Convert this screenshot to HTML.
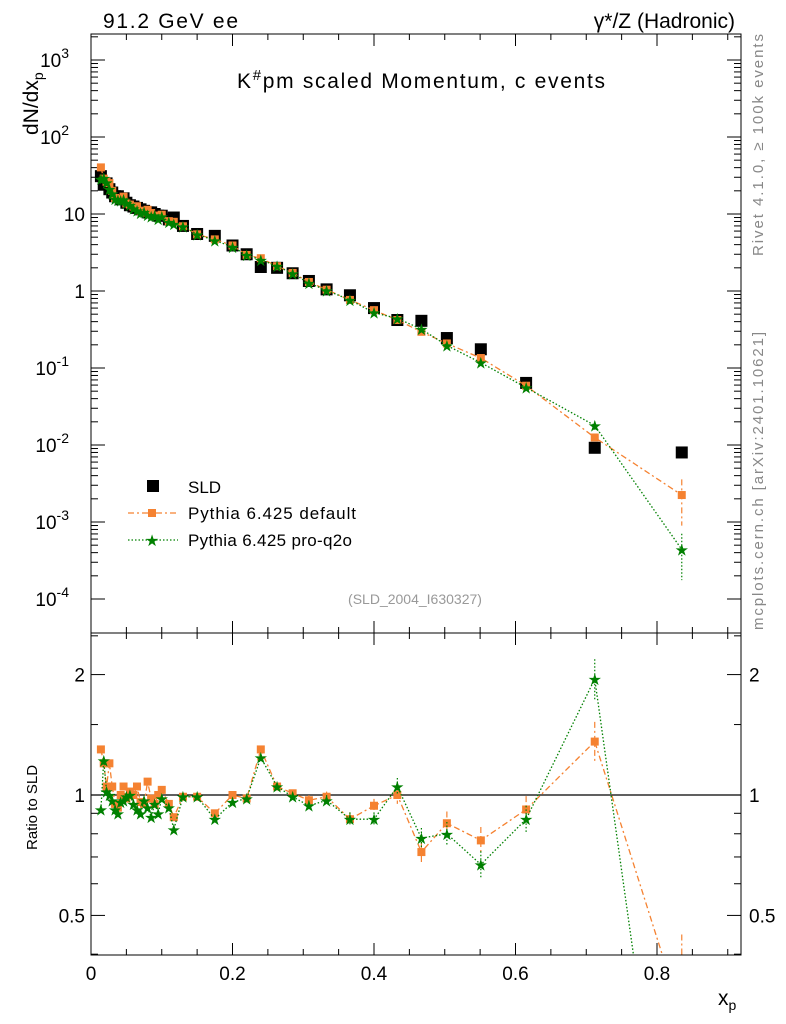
<!DOCTYPE html>
<html><head><meta charset="utf-8"><style>
html,body{margin:0;background:#fff;overflow:hidden;width:786px;height:1024px}
svg{font-family:"Liberation Sans",sans-serif;display:block}
</style></head><body>
<svg id="c" width="786" height="1024" xmlns="http://www.w3.org/2000/svg">
<rect width="786" height="1024" fill="#fff"/>
<g id="g"></g>
<text x="103" y="28" font-size="21" textLength="135">91.2 GeV ee</text>
<text x="735" y="28" font-size="21" text-anchor="end">γ*/Z (Hadronic)</text>
<text x="237" y="88" font-size="21" textLength="368">K<tspan dy="-8" font-size="15">#</tspan><tspan dy="8">pm scaled Momentum, c events</tspan></text>
<text x="415" y="604" font-size="14" fill="#999" text-anchor="middle">(SLD_2004_I630327)</text>
<text transform="translate(763,256) rotate(-90)" font-size="15" fill="#888" textLength="222">Rivet 4.1.0, ≥ 100k events</text>
<text transform="translate(763,630) rotate(-90)" font-size="15" fill="#888" textLength="298">mcplots.cern.ch [arXiv:2401.10621]</text>
<text transform="translate(38,135) rotate(-90)" font-size="21">dN/dx<tspan dy="5" font-size="14">p</tspan></text>
<text transform="translate(37,850) rotate(-90)" font-size="15">Ratio to SLD</text>
<text x="718" y="1005" font-size="21">x<tspan dy="5" font-size="14">p</tspan></text>
<g>
<rect x="147" y="480" width="12" height="12" fill="#000"/>
<text x="188" y="493" font-size="17">SLD</text>
<line x1="128" y1="513" x2="178" y2="513" stroke="#f58231" stroke-width="1.3" stroke-dasharray="6,3,2,3"/>
<rect x="148" y="509" width="8" height="8" fill="#f58231"/>
<text x="188" y="519" font-size="17" textLength="168">Pythia 6.425 default</text>
<line x1="128" y1="540" x2="178" y2="540" stroke="#008000" stroke-width="1.3" stroke-dasharray="1.5,2"/>
<text x="152" y="546" font-size="16" fill="#008000" text-anchor="middle">★</text>
<text x="188" y="546" font-size="17" textLength="164">Pythia 6.425 pro-q2o</text>
</g>
</svg>
<script>
const xs=[0.014,0.018,0.022,0.026,0.030,0.034,0.038,0.042,0.046,0.050,0.055,0.060,0.065,0.070,0.075,0.080,0.085,0.090,0.095,0.100,0.110,0.117,0.130,0.150,0.175,0.200,0.220,0.240,0.263,0.285,0.308,0.333,0.366,0.400,0.433,0.467,0.503,0.551,0.615,0.712,0.835];
const sld=[31,24,25,21,19,17,17,15.5,16,14,13,12.5,12,11.5,11,10.5,10.5,10,9.5,9.5,8.5,9,7,5.5,5.2,3.9,3.0,2.05,2.0,1.7,1.35,1.05,0.88,0.6,0.42,0.41,0.245,0.175,0.064,0.0092,0.008];
const rDef=[1.3,1.2,1.05,1.2,1.05,0.95,0.93,1.0,1.05,0.98,1.02,1.0,1.05,0.96,0.95,1.08,0.98,0.95,1.0,1.03,0.95,0.88,0.99,0.99,0.9,1.0,0.98,1.3,1.05,1.01,0.97,0.99,0.87,0.94,1.0,0.72,0.85,0.77,0.92,1.36,0.28];
const rPro=[0.92,1.22,1.02,1.0,0.97,0.92,0.9,0.96,0.97,0.99,1.0,0.95,0.92,0.9,0.97,0.93,0.88,0.95,0.9,0.98,0.93,0.82,0.99,0.99,0.87,0.96,0.98,1.24,1.05,0.99,0.94,0.97,0.87,0.87,1.05,0.78,0.8,0.67,0.87,1.95,0.055];
const errRel=[0.02,0.02,0.02,0.02,0.02,0.02,0.02,0.02,0.02,0.02,0.02,0.02,0.02,0.02,0.02,0.02,0.02,0.02,0.02,0.02,0.02,0.02,0.02,0.02,0.02,0.02,0.02,0.02,0.02,0.02,0.03,0.03,0.04,0.04,0.05,0.06,0.07,0.08,0.08,0.12,0.6];
const xTicks=[0,0.2,0.4,0.6,0.8];
const yDecades=[-4,-3,-2,-1,0,1,2,3];
const rTicks=[0.5,1,2];
const NS="http://www.w3.org/2000/svg";
const L=91,R=741,T=34,M=633,B=955;
const X=v=>L+v*707.5;
const Y=v=>291-77*Math.log10(v);
const RY=v=>795-400*Math.log10(v);
const g=document.getElementById('g');
function el(t,a,p){const e=document.createElementNS(NS,t);for(const k in a)e.setAttribute(k,a[k]);(p||g).appendChild(e);return e;}
const defs=el('defs',{});
const c1=el('clipPath',{id:'cm'},defs);el('rect',{x:L,y:T,width:R-L,height:M-T},c1);
const c2=el('clipPath',{id:'cr'},defs);el('rect',{x:L,y:M,width:R-L,height:B-M},c2);
let f=el('rect',{x:L,y:T,width:R-L,height:M-T,fill:'none',stroke:'#000','stroke-width':1});


f=el('rect',{x:L,y:M,width:R-L,height:B-M,fill:'none',stroke:'#000','stroke-width':1});


for(let v=0;v<=0.92;v+=0.05){const x=X(v);const maj=Math.abs(v*5-Math.round(v*5))<1e-6;const l=maj?12:6;
el('line',{x1:x,y1:B,x2:x,y2:B-l,stroke:'#000'});el('line',{x1:x,y1:M,x2:x,y2:M+l,stroke:'#000'});
el('line',{x1:x,y1:M,x2:x,y2:M-l,stroke:'#000'});el('line',{x1:x,y1:T,x2:x,y2:T+l,stroke:'#000'});}
xTicks.forEach(v=>{const t=el('text',{x:X(v),y:980,'font-size':19,'text-anchor':'middle'});t.textContent=v===0?'0':v.toString();

});
yDecades.forEach(d=>{const y=Y(Math.pow(10,d));
el('line',{x1:L,y1:y,x2:L+14,y2:y,stroke:'#000'});el('line',{x1:R,y1:y,x2:R-14,y2:y,stroke:'#000'});
for(let m=2;m<10;m++){const yy=Y(m*Math.pow(10,d));if(yy<T)continue;el('line',{x1:L,y1:yy,x2:L+7,y2:yy,stroke:'#000'});el('line',{x1:R,y1:yy,x2:R-7,y2:yy,stroke:'#000'});}
const t=el('text',{x:L-6,y:y+7,'font-size':19,'text-anchor':'end'});


if(d===0)t.textContent='1';else if(d===1)t.textContent='10';else{t.textContent='10';const s=el('tspan',{dy:-9,'font-size':14},t);s.textContent=String(d);}
if(d>=2||d<0){t.setAttribute('x',L-22);}
});
[0.4,0.5,0.6,0.7,0.8,0.9,1,1.5,2,2.5].forEach(v=>{const y=RY(v);if(y<M||y>B)return;const maj=rTicks.includes(v);const l=maj?14:7;
el('line',{x1:L,y1:y,x2:L+l,y2:y,stroke:'#000'});el('line',{x1:R,y1:y,x2:R-l,y2:y,stroke:'#000'});});
rTicks.forEach(v=>{const y=RY(v)+7;const s=v===1?'1':String(v);
let t=el('text',{x:L-6,y:y,'font-size':19,'text-anchor':'end'});t.textContent=s;


t=el('text',{x:R+8,y:y,'font-size':19});t.textContent=s;

});
el('line',{x1:L,y1:RY(1),x2:R,y2:RY(1),stroke:'#000','stroke-width':1.2});
const gm=el('g',{'clip-path':'url(#cm)'});
const gr=el('g',{'clip-path':'url(#cr)'});
function series(vals,color,dash,star,parent,yf,name){
 const pts=xs.map((x,i)=>X(x)+','+yf(vals[i])).join(' ');
 const pl=el('polyline',{points:pts,fill:'none',stroke:color,'stroke-width':1.3,'stroke-dasharray':dash},parent);
 
 
 xs.forEach((x,i)=>{const v=vals[i];const e=errRel[i];const cx=X(x),cy=yf(v);
  el('line',{x1:cx,y1:yf(v*(1+e)),x2:cx,y2:yf(Math.max(v*(1-e),1e-9)),stroke:color,'stroke-width':1.2,'stroke-dasharray':dash},parent);
  let m;
  if(star){m=el('text',{x:cx,y:cy+6,'font-size':16,fill:color,'text-anchor':'middle'},parent);m.textContent='★';}
  else m=el('rect',{x:cx-4,y:cy-4,width:8,height:8,fill:color},parent);
  
  
 });
}
xs.forEach((x,i)=>{const r=el('rect',{x:X(x)-6,y:Y(sld[i])-6,width:12,height:12,fill:'#000'},gm);

});
series(sld.map((v,i)=>v*rDef[i]),'#f58231','6,3,2,3',false,gm,Y,'default');
series(sld.map((v,i)=>v*rPro[i]),'#008000','1.5,2',true,gm,Y,'proq2o');
series(rDef,'#f58231','6,3,2,3',false,gr,RY,'ratio-default');
series(rPro,'#008000','1.5,2',true,gr,RY,'ratio-proq2o');
</script>
</body></html>
